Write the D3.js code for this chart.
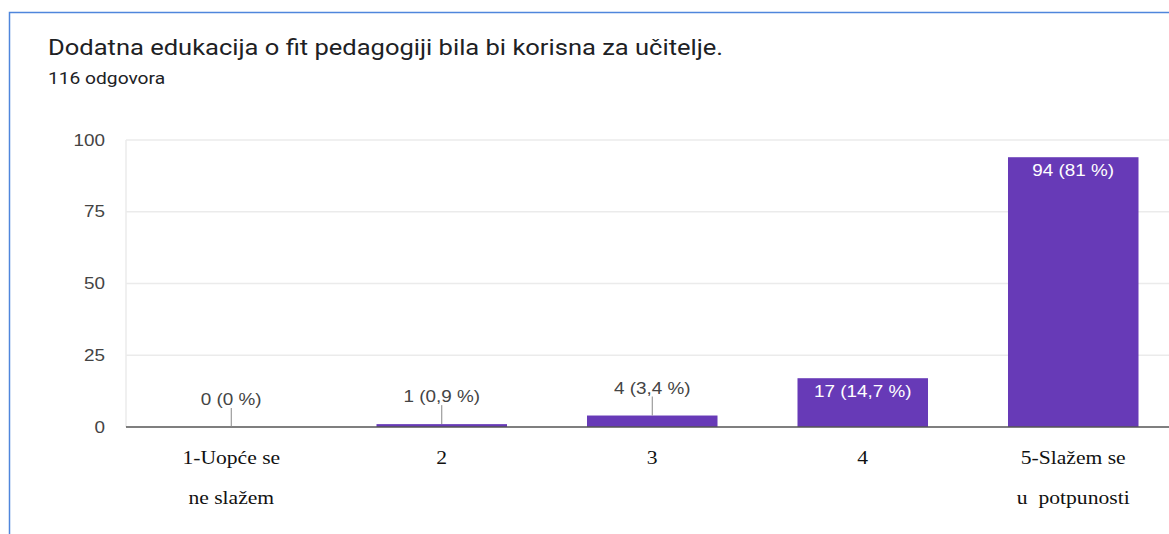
<!DOCTYPE html>
<html>
<head>
<meta charset="utf-8">
<script src="https://cdn.jsdelivr.net/npm/d3@7"></script>
<style>
  body { margin: 0; background: #fff; }
  svg { display: block; }
</style>
</head>
<body>
<script>
var title = "Dodatna edukacija o fit pedagogiji bila bi korisna za učitelje.";
var subtitle = "116 odgovora";
var categories = ["1", "2", "3", "4", "5"];
var categoryLabels = [["1-Uopće se", "ne slažem"], ["2"], ["3"], ["4"], ["5-Slažem se", "u  potpunosti"]];
var counts = [0, 1, 4, 17, 94];
var percentLabels = ["0 %", "0,9 %", "3,4 %", "14,7 %", "81 %"];
var yTicks = [0, 25, 50, 75, 100];

var width = 1169, height = 534;
var margin = {left: 126, top: 140, bottom: 107};
var stretch = 1.18;   // the screenshot is a bit wider than tall

var svg = d3.select("body").append("svg")
    .attr("width", width)
    .attr("height", height);

// place a text at x,y stretched horizontally around its anchor
function put(sel, x, y, sx) {
    return sel.attr("transform", "translate(" + x + "," + y + ") scale(" + (sx || stretch) + ",1)");
}

// card border (left + top only visible)
svg.append("path")
    .attr("d", "M9.5," + height + "V12.5H" + width)
    .attr("fill", "none")
    .attr("stroke", "#4f86dc")
    .attr("stroke-width", 1.5);

put(svg.append("text"), 48, 55, 1.16)
    .attr("font-family", "Roboto")
    .attr("font-size", 22)
    .attr("fill", "#202124")
    .text(title);

put(svg.append("text"), 48, 84, 1.2)
    .attr("font-family", "Roboto")
    .attr("font-size", 16)
    .attr("fill", "#202124")
    .text(subtitle);

//SCALES
var xScale = d3.scaleBand()
    .domain(categories)
    .range([margin.left, margin.left + 5 * 210.5])
    .paddingInner(0.38)
    .paddingOuter(0.19);

var yScale = d3.scaleLinear()
    .domain([0, 100])
    .range([height - margin.bottom, margin.top]);

// gridlines
svg.append("g").selectAll("line")
    .data(yTicks.filter(function(d){ return d > 0; }))
    .enter().append("line")
        .attr("x1", margin.left).attr("x2", width)
        .attr("y1", function(d){ return yScale(d); })
        .attr("y2", function(d){ return yScale(d); })
        .attr("stroke", "#ebebeb")
        .attr("stroke-width", 1.5);

svg.append("line")
    .attr("x1", margin.left).attr("x2", margin.left)
    .attr("y1", yScale(100)).attr("y2", yScale(0))
    .attr("stroke", "#ebebeb")
    .attr("stroke-width", 1.5);

// y axis labels
var yAxis = svg.append("g")
    .attr("transform", "translate(" + margin.left + ",0)")
    .call(d3.axisLeft(yScale).tickValues(yTicks).tickSize(0).tickPadding(20));
yAxis.select(".domain").remove();
yAxis.selectAll("text")
    .attr("x", null)
    .attr("transform", "translate(-21,0) scale(" + stretch + ",1)")
    .attr("font-family", "Liberation Sans, Arial")
    .attr("font-size", 16)
    .attr("fill", "#444");

// bars
svg.append("g").selectAll("rect")
    .data(counts)
    .enter().append("rect")
        .attr("x", function(d, i){ return xScale(categories[i]); })
        .attr("width", xScale.bandwidth())
        .attr("y", function(d){ return yScale(d); })
        .attr("height", function(d){ return yScale(0) - yScale(d); })
        .attr("fill", "#673ab7");

// baseline
svg.append("line")
    .attr("x1", margin.left).attr("x2", width)
    .attr("y1", yScale(0)).attr("y2", yScale(0))
    .attr("stroke", "#555")
    .attr("stroke-width", 1.5);

// value labels
var labels = svg.append("g").selectAll("g")
    .data(counts)
    .enter().append("g")
        .attr("transform", function(d, i){
            return "translate(" + (xScale(categories[i]) + xScale.bandwidth() / 2) + "," + yScale(d) + ")";
        });

labels.each(function(d, i){
    var g = d3.select(this);
    var inside = (yScale(0) - yScale(d)) > 30;
    var txt = d + " (" + percentLabels[i] + ")";
    if (inside) {
        put(g.append("text"), 0, 19)
            .attr("text-anchor", "middle")
            .attr("font-family", "Liberation Sans, Arial")
            .attr("font-size", 16)
            .attr("fill", "#fff")
            .text(txt);
    } else {
        g.append("line")
            .attr("y1", -19).attr("y2", 0)
            .attr("stroke", "#888")
            .attr("stroke-width", 1);
        put(g.append("text"), 0, -22)
            .attr("text-anchor", "middle")
            .attr("font-family", "Liberation Sans, Arial")
            .attr("font-size", 16)
            .attr("fill", "#444")
            .text(txt);
    }
});

// category labels
var cats = svg.append("g").selectAll("g")
    .data(categoryLabels)
    .enter().append("g")
        .attr("transform", function(d, i){
            return "translate(" + (xScale(categories[i]) + xScale.bandwidth() / 2) + ",0)";
        });

cats.selectAll("text")
    .data(function(d){ return d; })
    .enter().append("text")
        .attr("text-anchor", "middle")
        .attr("font-family", "Liberation Serif, Times New Roman")
        .attr("font-size", 18)
        .attr("fill", "#111")
        .style("white-space", "pre")
        .attr("transform", function(d, i){ return "translate(0," + (464 + i * 39.5) + ") scale(1.2,1)"; })
        .text(function(d){ return d; });
</script>
</body>
</html>
